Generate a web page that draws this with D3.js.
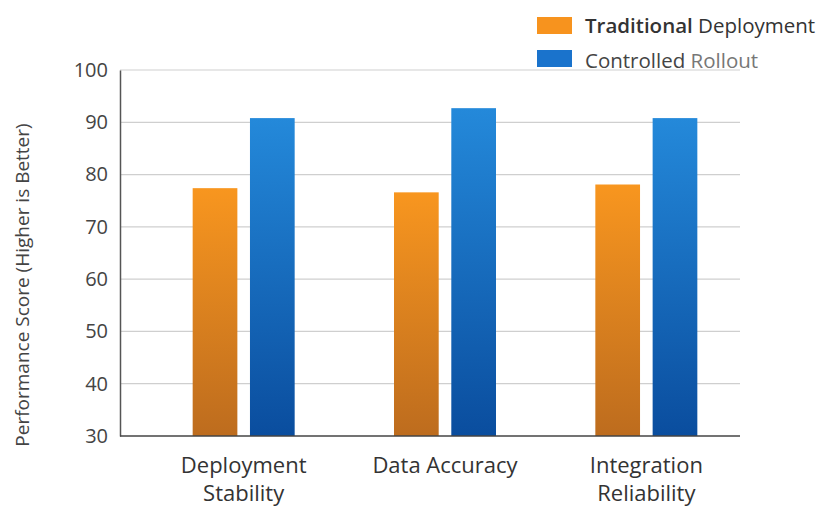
<!DOCTYPE html>
<html><head><meta charset="utf-8">
<script src="https://cdn.jsdelivr.net/npm/d3@7"></script>
<style>body{margin:0;background:#fff;}svg{display:block;font-family:"Open Sans","Noto Sans",sans-serif;}</style>
</head><body>
<svg id="c" width="818" height="507"></svg>
<script>
const categories = [["Deployment","Stability"],["Data Accuracy"],["Integration","Reliability"]];
const categoryKeys = ["Deployment Stability","Data Accuracy","Integration Reliability"];
const seriesNames = ["Traditional Deployment","Controlled Rollout"];
const traditional = [77.4, 76.6, 78.1];
const controlled = [90.8, 92.7, 90.8];
const yTicks = [30,40,50,60,70,80,90,100];

(function(){
const svg = d3.select("#c");
const defs = svg.append("defs");
function grad(id, c1, c2){
  const g = defs.append("linearGradient").attr("id",id).attr("x1",0).attr("y1",0).attr("x2",0).attr("y2",1);
  g.append("stop").attr("offset","0%").attr("stop-color",c1);
  g.append("stop").attr("offset","100%").attr("stop-color",c2);
}
grad("gO","#F8961F","#BD6C1E");
grad("gB","#2489DA","#0A4D9E");
const fills = ["url(#gO)","url(#gB)"];

const pL = 120, pR = 740, pT = 70, pB = 436;
const y = d3.scaleLinear().domain([30,100]).range([pB, pT]);
const x0 = d3.scaleBand().domain(categoryKeys).range([143, 747]).padding(0);
const x1 = d3.scaleBand().domain(seriesNames).range([0, 102]).paddingInner(0.22);

// gridlines
svg.append("g").selectAll("line").data(yTicks.filter(t=>t>30)).join("line")
  .attr("x1", pL).attr("x2", pR).attr("y1", d=>y(d)).attr("y2", d=>y(d))
  .attr("stroke","#cfcfcf").attr("stroke-width",1.2);

// bars
const data = categoryKeys.map((k,i)=>({k, vals:[traditional[i], controlled[i]]}));
const grp = svg.append("g").selectAll("g").data(data).join("g")
  .attr("transform", d=>`translate(${x0(d.k) + x0.bandwidth()/2 - 51},0)`);
grp.selectAll("rect").data(d=>d.vals.map((v,j)=>({v, s:seriesNames[j], j}))).join("rect")
  .attr("x", d=>x1(d.s)).attr("width", x1.bandwidth())
  .attr("y", d=>y(d.v)).attr("height", d=>y(30)-y(d.v))
  .attr("fill", d=>fills[d.j]);

// y axis
const yAxis = d3.axisLeft(y).tickValues(yTicks).tickSize(0).tickPadding(12);
const ya = svg.append("g").attr("transform",`translate(${pL},0)`).call(yAxis);
ya.select(".domain").attr("stroke","#555").attr("stroke-width",1.5);
ya.selectAll("text").attr("font-size",20).attr("fill","#444").attr("font-family","Open Sans, sans-serif");

// x axis line
svg.append("line").attr("x1",pL).attr("x2",pR).attr("y1",pB).attr("y2",pB)
  .attr("stroke","#444").attr("stroke-width",1.6);

// category labels
const cl = svg.append("g").selectAll("text").data(categories).join("text")
  .attr("x",(d,i)=>x0(categoryKeys[i]) + x0.bandwidth()/2)
  .attr("y",473).attr("text-anchor","middle").attr("font-size",22).attr("fill","#333");
cl.selectAll("tspan").data(d=>d).join("tspan")
  .attr("x", function(){return this.parentNode.getAttribute("x");})
  .attr("dy",(d,i)=>i===0?0:28).text(d=>d);

// y title
svg.append("text").attr("transform","translate(29,285) rotate(-90)")
  .attr("text-anchor","middle").attr("font-size",19).attr("fill","#444")
  .text("Performance Score (Higher is Better)");

// legend
const lg = svg.append("g");
const swFill = ["#F7931E","#1A73CC"];
[0,1].forEach(i=>{
  lg.append("rect").attr("x",537).attr("y",17+i*33).attr("width",35).attr("height",17).attr("fill",swFill[i]);
});
const t1 = lg.append("text").attr("x",585).attr("y",33).attr("font-size",20.5).attr("fill","#333");
t1.append("tspan").attr("font-weight",600).text("Traditional");
t1.append("tspan").text(" Deployment");
const t2 = lg.append("text").attr("x",585).attr("y",68).attr("font-size",20.5).attr("fill","#444");
t2.append("tspan").text("Controlled ");
t2.append("tspan").attr("fill","#777").text("Rollout");
})();
</script>
</body></html>
